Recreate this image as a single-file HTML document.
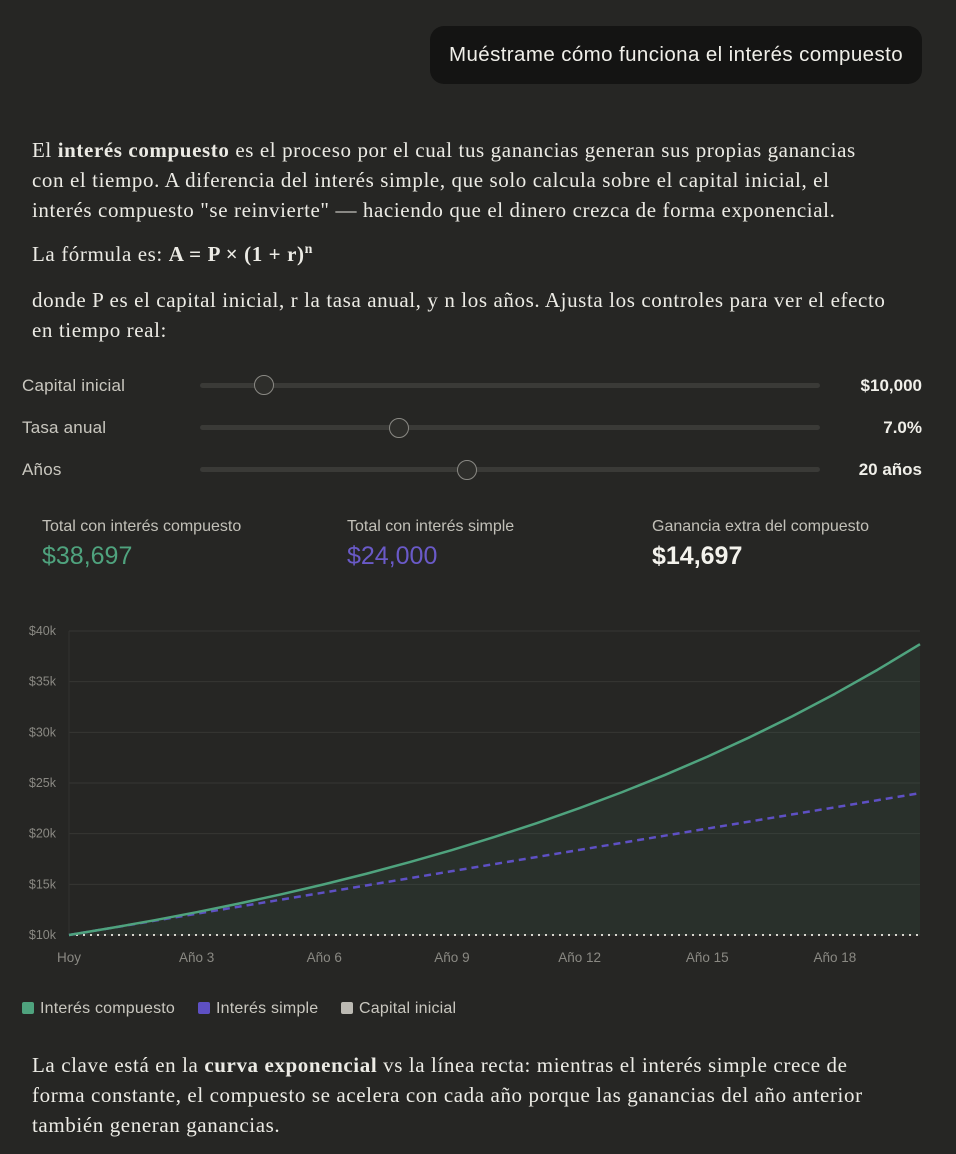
<!DOCTYPE html>
<html><head><meta charset="utf-8">
<style>
body{margin:0;width:956px;height:1154px;background:#262624;overflow:hidden;position:relative;font-family:"Liberation Sans",sans-serif;color:#e8e6df}
.abs{position:absolute;white-space:nowrap}
.serif{font-family:"Liberation Serif",serif;font-size:21px;letter-spacing:0.6px;color:#ecebe5}
.bubble{left:430px;top:26px;width:492px;height:58px;background:#141413;border-radius:14px;font-size:20.5px;line-height:58px;text-align:center;color:#f0efe9;letter-spacing:0.4px}
.lbl{font-size:17px;color:#c9c7bf;letter-spacing:0.2px}
.val{font-size:17px;font-weight:bold;color:#f0efe9;right:34px;letter-spacing:0px}
.track{left:200px;width:620px;height:5px;border-radius:3px;background:#3a3a37}
.thumb{width:20px;height:20px;border-radius:50%;background:#2e2e2b;border:1px solid #8a8984;box-sizing:border-box}
.slbl{font-size:16px;color:#c2c0b8;letter-spacing:0}
.sval{font-size:25px;letter-spacing:0}
.leg{font-size:16px;color:#c9c7bf;letter-spacing:0.2px}
.sw{display:inline-block;width:12px;height:12px;border-radius:2px;vertical-align:-1px;margin-right:6px}
</style></head><body>
<div class="abs bubble">Muéstrame cómo funciona el interés compuesto</div>

<div class="abs serif" style="left:32px;top:138px">El <b>interés compuesto</b> es el proceso por el cual tus ganancias generan sus propias ganancias</div>
<div class="abs serif" style="left:32px;top:168px">con el tiempo. A diferencia del interés simple, que solo calcula sobre el capital inicial, el</div>
<div class="abs serif" style="left:32px;top:198px">interés compuesto "se reinvierte" — haciendo que el dinero crezca de forma exponencial.</div>
<div class="abs serif" style="left:32px;top:242px">La fórmula es: <b>A = P × (1 + r)<sup style="font-size:14px">n</sup></b></div>
<div class="abs serif" style="left:32px;top:288px">donde P es el capital inicial, r la tasa anual, y n los años. Ajusta los controles para ver el efecto</div>
<div class="abs serif" style="left:32px;top:318px">en tiempo real:</div>

<div class="abs lbl" style="left:22px;top:376px">Capital inicial</div>
<div class="abs track" style="top:383px"></div>
<div class="abs thumb" style="left:254px;top:375px"></div>
<div class="abs val" style="top:376px">$10,000</div>

<div class="abs lbl" style="left:22px;top:418px">Tasa anual</div>
<div class="abs track" style="top:425px"></div>
<div class="abs thumb" style="left:389px;top:418px"></div>
<div class="abs val" style="top:418px">7.0%</div>

<div class="abs lbl" style="left:22px;top:460px">Años</div>
<div class="abs track" style="top:467px"></div>
<div class="abs thumb" style="left:457px;top:460px"></div>
<div class="abs val" style="top:460px">20 años</div>

<div class="abs slbl" style="left:42px;top:518px">Total con interés compuesto</div>
<div class="abs sval" style="left:42px;top:542px;color:#4fa37e">$38,697</div>
<div class="abs slbl" style="left:347px;top:518px">Total con interés simple</div>
<div class="abs sval" style="left:347px;top:542px;color:#6a5ac8">$24,000</div>
<div class="abs slbl" style="left:652px;top:518px">Ganancia extra del compuesto</div>
<div class="abs sval" style="left:652px;top:542px;color:#f3f2ec;font-weight:bold">$14,697</div>

<svg class="abs" style="left:0;top:600px" width="956" height="380">
<g id="grid"></g><g id="plot"></g><g id="axes"></g>
</svg>

<div class="abs leg" style="left:22px;top:1000px"><span class="sw" style="background:#4fa37e"></span>Interés compuesto</div>
<div class="abs leg" style="left:198px;top:1000px"><span class="sw" style="background:#5e50c4"></span>Interés simple</div>
<div class="abs leg" style="left:341px;top:1000px"><span class="sw" style="background:#bcbab3"></span>Capital inicial</div>

<div class="abs serif" style="left:32px;top:1053px">La clave está en la <b>curva exponencial</b> vs la línea recta: mientras el interés simple crece de</div>
<div class="abs serif" style="left:32px;top:1083px">forma constante, el compuesto se acelera con cada año porque las ganancias del año anterior</div>
<div class="abs serif" style="left:32px;top:1113px">también generan ganancias.</div>

<script>
const years=[0,1,2,3,4,5,6,7,8,9,10,11,12,13,14,15,16,17,18,19,20];
const compound=[10000,10700,11449,12250,13108,14026,15007,16058,17182,18385,19672,21049,22522,24098,25785,27590,29522,31588,33799,36165,38697];
const simple=[10000,10700,11400,12100,12800,13500,14200,14900,15600,16300,17000,17700,18400,19100,19800,20500,21200,21900,22600,23300,24000];
const capital=10000;
const yTicks=[10000,15000,20000,25000,30000,35000,40000];
const yTickLabels=["$10k","$15k","$20k","$25k","$30k","$35k","$40k"];
const xTicks=[0,3,6,9,12,15,18];
const xTickLabels=["Hoy","Año 3","Año 6","Año 9","Año 12","Año 15","Año 18"];
const NS="http://www.w3.org/2000/svg";
const x=v=>69+v*(851/20);
const y=v=>335-(v-10000)*(304/30000);
function mk(tag,attrs,parent){const e=document.createElementNS(NS,tag);for(const k in attrs)e.setAttribute(k,attrs[k]);document.getElementById(parent).appendChild(e);return e;}
yTicks.forEach((t,i)=>{
  const l=mk('line',{x1:69,x2:920,y1:y(t),y2:y(t),stroke:'#363633','stroke-width':1},'grid');
  
  
  const tx=mk('text',{x:56,y:y(t)+4,'text-anchor':'end','font-size':12.5,fill:'#8a8983','font-family':'Liberation Sans'},'axes');
  tx.textContent=yTickLabels[i];
  
  
});
const yl=mk('line',{x1:69,x2:69,y1:y(40000),y2:y(10000),stroke:'#333330'},'grid');


xTicks.forEach((t,i)=>{
  const tx=mk('text',{x:x(t),y:362,'text-anchor':'middle','font-size':13.5,fill:'#8a8983','font-family':'Liberation Sans'},'axes');
  tx.textContent=xTickLabels[i];
  
  
});
const cpts=years.map((v,i)=>x(v)+','+y(compound[i]));
const area=mk('polygon',{points:cpts.join(' ')+' '+x(years[years.length-1])+','+y(capital)+' '+x(0)+','+y(capital),fill:'#4fa37e','fill-opacity':0.08},'plot');


const cap=mk('line',{x1:x(0),x2:x(years[years.length-1]),y1:y(capital),y2:y(capital),stroke:'#d8d6cf','stroke-width':2,'stroke-dasharray':'2 5'},'plot');


const sl=mk('polyline',{points:years.map((v,i)=>x(v)+','+y(simple[i])).join(' '),fill:'none',stroke:'#5e50c4','stroke-width':2.5,'stroke-dasharray':'7 5'},'plot');


const cl=mk('polyline',{points:cpts.join(' '),fill:'none',stroke:'#4fa37e','stroke-width':2.5,'stroke-linejoin':'round'},'plot');


</script>
</body></html>
